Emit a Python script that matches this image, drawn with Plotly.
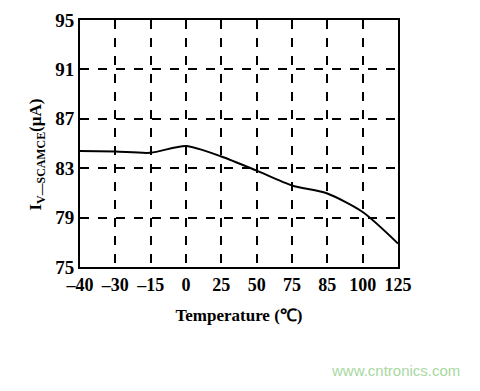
import plotly.graph_objects as go

temps = ["-40", "-30", "-15", "0", "25", "50", "75", "85", "100", "125"]
tick_labels = ["–40", "–30", "–15", "0", "25", "50", "75", "85", "100", "125"]
current = [84.4, 84.35, 84.25, 84.8, 83.95, 82.8, 81.6, 80.95, 79.45, 76.9]
y_ticks = [75, 79, 83, 87, 91, 95]

font_family = "Liberation Serif, Times New Roman, serif"

fig = go.Figure()
fig.add_trace(go.Scatter(
    x=temps, y=current, mode="lines",
    line=dict(color="black", width=2, shape="spline", smoothing=0.7),
    showlegend=False, hoverinfo="skip"))

fig.update_layout(
    width=480, height=391,
    margin=dict(l=80, r=82, t=10, b=124),
    paper_bgcolor="white", plot_bgcolor="white",
    font=dict(family=font_family, color="black", size=18),
)
fig.update_xaxes(
    type="category", categoryorder="array", categoryarray=temps,
    tickvals=temps, ticktext=tick_labels,
    range=[0, len(temps) - 1],
    showline=True, linecolor="black", linewidth=2, mirror=True,
    showgrid=True, gridcolor="black", gridwidth=1.5, griddash="dash",
    ticks="", tickfont=dict(size=18, family=font_family, weight="bold"),
    title=dict(text="Temperature (℃)", font=dict(size=17, family=font_family, weight="bold"), standoff=16),
    zeroline=False,
)
fig.update_yaxes(
    range=[75, 95], tickvals=y_ticks, ticktext=[str(v) for v in y_ticks],
    showline=True, linecolor="black", linewidth=2, mirror=True,
    showgrid=True, gridcolor="black", gridwidth=1.5, griddash="dash",
    ticks="", tickfont=dict(size=19, family=font_family, weight="bold"),
    zeroline=False,
)

plot_w = 480 - 80 - 82
plot_h = 391 - 10 - 124
fig.add_annotation(
    x=(37 - 80) / plot_w, y=(391 - 124 - 150) / plot_h, xref="paper", yref="paper",
    text="<b>I<sub>V—SCAMCE</sub>(μA)</b>",
    showarrow=False, textangle=-90,
    font=dict(size=17, family=font_family), xanchor="center", yanchor="middle")
fig.add_annotation(
    x=(462 - 80) / plot_w, y=(391 - 124 - 375) / plot_h, xref="paper", yref="paper",
    text="www.cntronics.com",
    showarrow=False, font=dict(size=15, family="Liberation Sans, Arial, sans-serif", color="#a8d8a0"),
    xanchor="right", yanchor="middle")

fig.write_html("out.html")
